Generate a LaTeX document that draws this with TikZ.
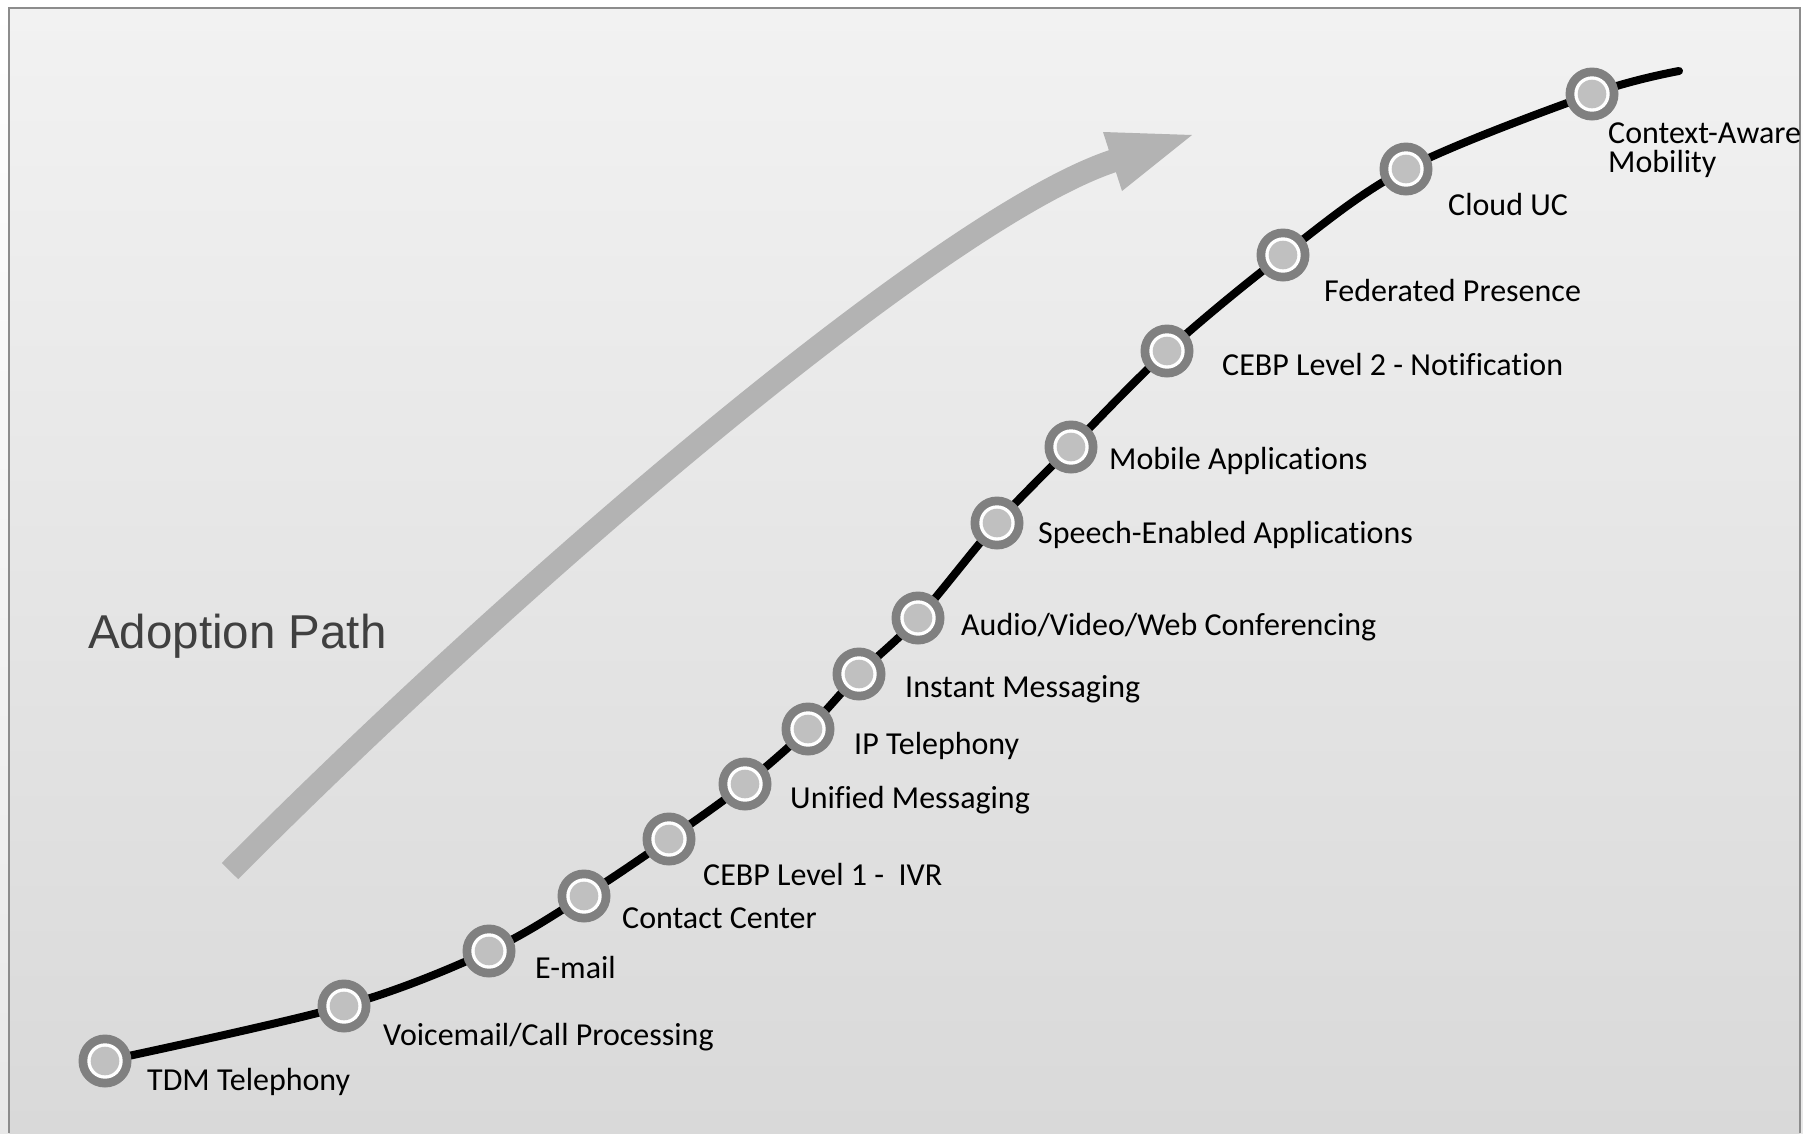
\documentclass[tikz,border=0pt]{standalone}
\usepackage{fontspec}
\setmainfont{Carlito}[Ligatures=CommonOff]
\newfontfamily\titlefont{Liberation Sans}
\usepackage{tikz}
\usetikzlibrary{backgrounds}
\definecolor{ringgray}{HTML}{808080}
\definecolor{dotgray}{HTML}{C0C0C0}
\definecolor{bandgray}{HTML}{B3B3B3}
\definecolor{titlegray}{HTML}{404040}
\definecolor{bgtop}{HTML}{F2F2F2}
\definecolor{bgbottom}{HTML}{D9D9D9}
\definecolor{framegray}{HTML}{8C8C8C}

\begin{document}
\begin{tikzpicture}[x=1pt, y=-1pt]

\tikzstyle{stage}=[circle, fill=ringgray, draw=none, minimum size=53pt, inner sep=0pt,
  path picture={\fill[white] (path picture bounding box.center) circle (17.7pt);
                \fill[dotgray] (path picture bounding box.center) circle (14.3pt);}]
\tikzstyle{stagetext}=[anchor=base west, inner sep=0pt, text=black,
  font=\fontsize{32}{29}\selectfont, align=left]

\useasboundingbox (0,0) rectangle (1803,1133);

% stages along the path
\node[stage] (s1)  at (105,1061) {};
\node[stage] (s2)  at (344,1006) {};
\node[stage] (s3)  at (489,951)  {};
\node[stage] (s4)  at (584,896)  {};
\node[stage] (s5)  at (669,839)  {};
\node[stage] (s6)  at (745,784)  {};
\node[stage] (s7)  at (808,729)  {};
\node[stage] (s8)  at (859,674)  {};
\node[stage] (s9)  at (918,618)  {};
\node[stage] (s10) at (997,523)  {};
\node[stage] (s11) at (1071,447) {};
\node[stage] (s12) at (1167,351) {};
\node[stage] (s13) at (1283,255) {};
\node[stage] (s14) at (1406,169) {};
\node[stage] (s15) at (1592,94)  {};
\coordinate (pathend) at (1679,71);

\node[stagetext] (t1)  at (147,1090) {TDM Telephony};
\node[stagetext] (t2)  at (383,1045) {Voicemail/Call Processing};
\node[stagetext] (t3)  at (535,978)  {E-mail};
\node[stagetext] (t4)  at (622,928)  {Contact Center};
\node[stagetext] (t5)  at (703,885)  {CEBP Level 1 -\ \ IVR};
\node[stagetext] (t6)  at (790,808)  {Unified Messaging};
\node[stagetext] (t7)  at (854,754)  {IP Telephony};
\node[stagetext] (t8)  at (905,697)  {Instant Messaging};
\node[stagetext] (t9)  at (961,635)  {Audio/Video/Web Conferencing};
\node[stagetext] (t10) at (1038,543) {Speech-Enabled Applications};
\node[stagetext] (t11) at (1109,469) {Mobile Applications};
\node[stagetext] (t12) at (1222,375) {CEBP Level 2 - Notification};
\node[stagetext] (t13) at (1324,301) {Federated Presence};
\node[stagetext] (t14) at (1448,215) {Cloud UC};
\node[stagetext] (t15) at (1608,172) {Context-Aware\\Mobility};

% big arrow
\coordinate (bandstart) at (230,871);
\coordinate (bandend) at (1113,161);
\draw[bandgray, line width=23pt] (bandstart) .. controls (542,558) and (950,215) .. (bandend);
\fill[bandgray] (1103,132) -- (1192,135) -- (1122,191) -- cycle;

\node[anchor=base west, inner sep=0pt, text=titlegray,
  font=\titlefont\fontsize{47.5}{50}\selectfont] (title) at (88,648) {Adoption Path};

\begin{scope}[on background layer]
\shade[top color=white, bottom color=gray!18] (0,0) rectangle (1803,1133);
\shade[top color=bgtop, bottom color=bgbottom] (9,8) rectangle (1800,1133);
\draw[framegray, line width=2pt] (9,1133) |- (1800,8) -- (1800,1133);
\draw[black, line width=8pt, line cap=round] plot[smooth, tension=0.55]
  coordinates {(s1.center) (s2.center) (s3.center) (s4.center) (s5.center)
  (s6.center) (s7.center) (s8.center) (s9.center) (s10.center) (s11.center)
  (s12.center) (s13.center) (s14.center) (s15.center) (pathend)};
\end{scope}

\end{tikzpicture}
\end{document}
